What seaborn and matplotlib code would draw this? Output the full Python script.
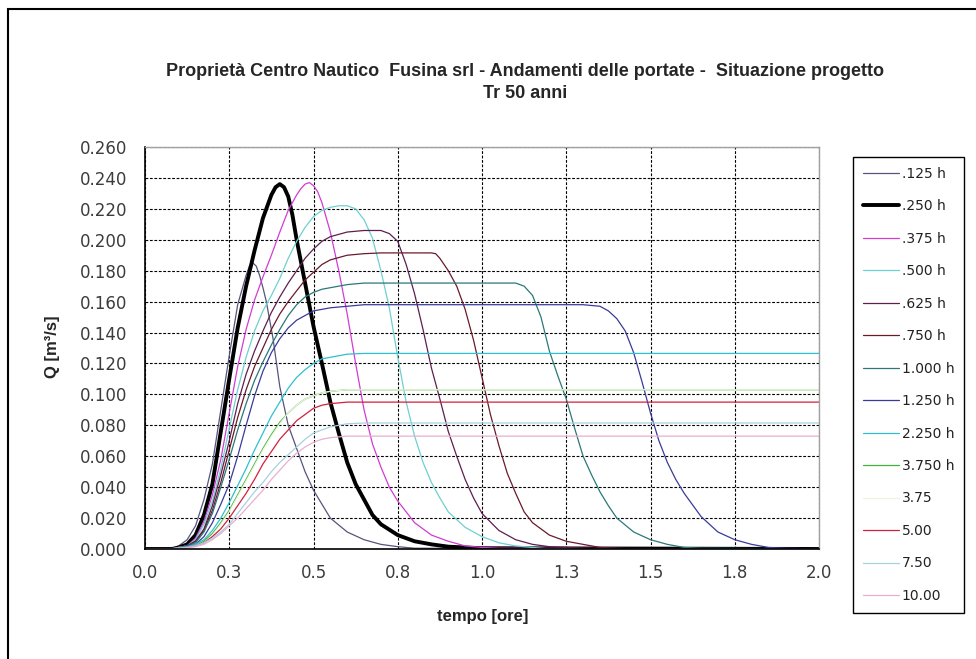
import numpy as np
import pandas as pd
import matplotlib
matplotlib.use("Agg")
import matplotlib.pyplot as plt
from matplotlib.patches import Rectangle
import seaborn as sns

# durate di pioggia (legenda) e colori
serie = [".125 h", ".250 h", ".375 h", ".500 h", ".625 h", ".750 h", "1.000 h",
         "1.250 h", "2.250 h", "3.750 h", "3.75", "5.00", "7.50", "10.00"]
colori = ["#55557f", "#000000", "#d23cd2", "#6fd0d0", "#5e1f4e", "#6a1a2a", "#2a7878",
          "#3a3a9a", "#2ec0d0", "#3cb43c", "#eef4dc", "#d2203c", "#a8d0e0", "#e8b0d0"]

# portate: tempo [ore], Q [m3/s]
t_0125 = [0, 0.08, 0.10, 0.125, 0.15, 0.175, 0.20, 0.225, 0.25, 0.275, 0.30, 0.31, 0.32, 0.33,
          0.34, 0.35, 0.36, 0.38, 0.40, 0.425, 0.45, 0.475, 0.50, 0.55, 0.60, 0.65, 0.70, 0.75,
          0.80, 2.0]
q_0125 = [0, 0, 0.002, 0.006, 0.015, 0.032, 0.055, 0.090, 0.125, 0.158, 0.177, 0.183, 0.185, 0.183,
          0.177, 0.169, 0.160, 0.136, 0.105, 0.080, 0.065, 0.050, 0.038, 0.020, 0.011, 0.006, 0.003,
          0.0015, 0.0005, 0]

t_0250 = [0, 0.08, 0.10, 0.125, 0.15, 0.175, 0.20, 0.225, 0.25, 0.275, 0.30, 0.325, 0.35, 0.375,
          0.3875, 0.40, 0.4125, 0.425, 0.4375, 0.45, 0.475, 0.50, 0.525, 0.55, 0.575, 0.60, 0.625,
          0.65, 0.675, 0.70, 0.75, 0.80, 0.85, 0.90, 0.95, 1.00, 2.0]
q_0250 = [0, 0, 0.001, 0.003, 0.009, 0.022, 0.042, 0.076, 0.110, 0.143, 0.170, 0.193, 0.214, 0.229,
          0.234, 0.236, 0.234, 0.228, 0.216, 0.200, 0.172, 0.144, 0.120, 0.095, 0.075, 0.056, 0.042,
          0.032, 0.022, 0.016, 0.009, 0.005, 0.003, 0.0015, 0.001, 0.0005, 0]

t_0375 = [0, 0.08, 0.10, 0.125, 0.15, 0.175, 0.20, 0.225, 0.25, 0.275, 0.30, 0.325, 0.35, 0.375,
          0.40, 0.425, 0.45, 0.4625, 0.475, 0.4875, 0.50, 0.5125, 0.525, 0.55, 0.575, 0.60, 0.625,
          0.65, 0.675, 0.70, 0.725, 0.75, 0.80, 0.85, 0.90, 0.95, 1.00, 1.05, 2.0]
q_0375 = [0, 0, 0.001, 0.002, 0.007, 0.018, 0.035, 0.058, 0.088, 0.118, 0.142, 0.161, 0.176, 0.190,
          0.205, 0.219, 0.229, 0.233, 0.236, 0.237, 0.235, 0.231, 0.224, 0.205, 0.180, 0.152, 0.120,
          0.090, 0.068, 0.053, 0.040, 0.031, 0.017, 0.009, 0.005, 0.002, 0.001, 0.0005, 0]

t_0500 = [0, 0.08, 0.10, 0.125, 0.15, 0.175, 0.20, 0.225, 0.25, 0.275, 0.30, 0.325, 0.35, 0.375,
          0.40, 0.425, 0.45, 0.475, 0.50, 0.525, 0.55, 0.575, 0.60, 0.625, 0.65, 0.675, 0.70,
          0.725, 0.75, 0.775, 0.80, 0.825, 0.85, 0.875, 0.90, 0.95, 1.00, 1.05, 1.10, 1.15, 1.20, 2.0]
q_0500 = [0, 0, 0.001, 0.002, 0.006, 0.016, 0.031, 0.052, 0.078, 0.103, 0.124, 0.141, 0.154, 0.164,
          0.175, 0.188, 0.199, 0.208, 0.215, 0.219, 0.221, 0.222, 0.222, 0.220, 0.213, 0.201, 0.180,
          0.156, 0.124, 0.095, 0.073, 0.056, 0.043, 0.033, 0.024, 0.014, 0.008, 0.004, 0.002, 0.001, 0, 0]

t_0625 = [0, 0.075, 0.10, 0.125, 0.15, 0.175, 0.20, 0.225, 0.25, 0.275, 0.30, 0.325, 0.35, 0.375,
          0.40, 0.425, 0.45, 0.475, 0.50, 0.525, 0.55, 0.60, 0.65, 0.70, 0.725, 0.75, 0.775, 0.80,
          0.825, 0.85, 0.875, 0.90, 0.925, 0.95, 0.975, 1.00, 1.05, 1.10, 1.15, 1.20, 1.25, 1.30,
          1.35, 2.0]
q_0625 = [0, 0, 0.001, 0.002, 0.005, 0.013, 0.028, 0.048, 0.070, 0.094, 0.113, 0.128, 0.141, 0.153,
          0.163, 0.172, 0.180, 0.188, 0.194, 0.199, 0.202, 0.205, 0.206, 0.206, 0.204, 0.199, 0.184,
          0.165, 0.142, 0.117, 0.097, 0.076, 0.060, 0.045, 0.033, 0.023, 0.012, 0.006, 0.003, 0.0015,
          0.001, 0.0005, 0, 0]

t_0750 = [0, 0.075, 0.10, 0.125, 0.15, 0.175, 0.20, 0.225, 0.25, 0.275, 0.30, 0.325, 0.35, 0.375,
          0.40, 0.425, 0.45, 0.475, 0.50, 0.525, 0.55, 0.60, 0.65, 0.70, 0.85, 0.8625, 0.875, 0.90,
          0.925, 0.95, 0.975, 1.00, 1.025, 1.05, 1.075, 1.10, 1.125, 1.15, 1.20, 1.25, 1.30, 1.35,
          1.40, 1.45, 2.0]
q_0750 = [0, 0, 0.001, 0.002, 0.005, 0.012, 0.025, 0.043, 0.064, 0.085, 0.103, 0.118, 0.130, 0.142,
          0.152, 0.160, 0.167, 0.174, 0.179, 0.184, 0.187, 0.190, 0.191, 0.1915, 0.1915, 0.191, 0.188,
          0.180, 0.170, 0.155, 0.135, 0.111, 0.087, 0.067, 0.049, 0.036, 0.024, 0.017, 0.009, 0.005,
          0.003, 0.001, 0.0005, 0, 0]

t_1000 = [0, 0.075, 0.10, 0.125, 0.15, 0.175, 0.20, 0.225, 0.25, 0.275, 0.30, 0.325, 0.35, 0.375,
          0.40, 0.425, 0.45, 0.475, 0.50, 0.525, 0.55, 0.60, 0.65, 1.10, 1.125, 1.15, 1.175, 1.20,
          1.225, 1.25, 1.275, 1.30, 1.325, 1.35, 1.375, 1.40, 1.45, 1.50, 1.55, 1.60, 1.65, 2.0]
q_1000 = [0, 0, 0.001, 0.002, 0.004, 0.011, 0.023, 0.040, 0.058, 0.077, 0.094, 0.109, 0.121, 0.132,
          0.142, 0.151, 0.158, 0.163, 0.166, 0.168, 0.169, 0.171, 0.172, 0.172, 0.170, 0.164, 0.150,
          0.128, 0.112, 0.097, 0.078, 0.060, 0.048, 0.037, 0.028, 0.020, 0.011, 0.006, 0.003, 0.001,
          0.0005, 0]

t_1250 = [0, 0.075, 0.10, 0.125, 0.15, 0.175, 0.20, 0.225, 0.25, 0.275, 0.30, 0.325, 0.35, 0.375,
          0.40, 0.425, 0.45, 0.475, 0.50, 0.525, 0.55, 0.60, 0.65, 1.30, 1.35, 1.375, 1.40, 1.425,
          1.45, 1.475, 1.50, 1.525, 1.55, 1.575, 1.60, 1.65, 1.70, 1.75, 1.80, 1.85, 1.90, 2.0]
q_1250 = [0, 0, 0.001, 0.002, 0.003, 0.008, 0.017, 0.029, 0.042, 0.060, 0.080, 0.099, 0.115, 0.127,
          0.136, 0.143, 0.148, 0.151, 0.154, 0.155, 0.156, 0.157, 0.158, 0.158, 0.157, 0.154, 0.149,
          0.141, 0.127, 0.108, 0.088, 0.070, 0.056, 0.045, 0.036, 0.021, 0.011, 0.006, 0.003, 0.001,
          0.0005, 0]

# durate lunghe: risalita e poi portata costante fino a 2 ore
t_lunghe = [0, 0.075, 0.10, 0.125, 0.15, 0.175, 0.20, 0.225, 0.25, 0.275, 0.30, 0.325, 0.35, 0.375,
            0.40, 0.425, 0.45, 0.475, 0.50, 0.525, 0.55, 0.60, 0.65, 2.0]
q_2250 = [0, 0, 0.001, 0.0015, 0.003, 0.006, 0.012, 0.020, 0.030, 0.041, 0.052, 0.064, 0.075, 0.086,
          0.095, 0.104, 0.111, 0.116, 0.120, 0.123, 0.124, 0.126, 0.1265, 0.1265]
q_3750 = [0, 0, 0.0005, 0.001, 0.002, 0.005, 0.010, 0.017, 0.025, 0.035, 0.045, 0.055, 0.065, 0.074,
          0.082, 0.088, 0.093, 0.097, 0.099, 0.101, 0.102, 0.103, 0.103, 0.103]
q_375 = [0, 0, 0.0005, 0.001, 0.002, 0.004, 0.009, 0.016, 0.024, 0.034, 0.044, 0.054, 0.064, 0.073,
         0.081, 0.088, 0.093, 0.097, 0.099, 0.101, 0.102, 0.103, 0.103, 0.103]
q_500 = [0, 0, 0.0005, 0.001, 0.002, 0.004, 0.008, 0.013, 0.020, 0.028, 0.036, 0.045, 0.055, 0.063,
         0.071, 0.077, 0.083, 0.087, 0.091, 0.093, 0.094, 0.095, 0.095, 0.095]
q_750 = [0, 0, 0.0005, 0.001, 0.002, 0.004, 0.007, 0.011, 0.016, 0.023, 0.030, 0.037, 0.043, 0.050,
         0.056, 0.061, 0.066, 0.071, 0.075, 0.077, 0.079, 0.081, 0.0815, 0.0815]
q_1000h = [0, 0, 0.0005, 0.0008, 0.0015, 0.003, 0.006, 0.010, 0.015, 0.020, 0.026, 0.032, 0.038, 0.045,
           0.051, 0.057, 0.062, 0.066, 0.069, 0.071, 0.072, 0.073, 0.073, 0.073]

tempi = [t_0125, t_0250, t_0375, t_0500, t_0625, t_0750, t_1000, t_1250,
         t_lunghe, t_lunghe, t_lunghe, t_lunghe, t_lunghe, t_lunghe]
portate = [q_0125, q_0250, q_0375, q_0500, q_0625, q_0750, q_1000, q_1250,
           q_2250, q_3750, q_375, q_500, q_750, q_1000h]

x_ticks = [0, 0.25, 0.5, 0.75, 1.0, 1.25, 1.5, 1.75, 2.0]
x_labels = ["0.0", "0.3", "0.5", "0.8", "1.0", "1.3", "1.5", "1.8", "2.0"]
y_ticks = [0, 0.02, 0.04, 0.06, 0.08, 0.10, 0.12, 0.14, 0.16, 0.18, 0.20, 0.22, 0.24, 0.26]

# tabella lunga per seaborn
df = pd.concat([pd.DataFrame({"serie": s, "tempo": t, "Q": q})
                for s, t, q in zip(serie, tempi, portate)], ignore_index=True)

sns.set_style("white")
plt.rcParams['font.family'] = ['DejaVu Sans']

W, H = 976, 659
fig = plt.figure(figsize=(W / 100, H / 100), dpi=100)
ax = fig.add_axes([145 / W, 1 - 549 / H, (819 - 145) / W, (549 - 147) / H])

for s, c in zip(serie, colori):
    lw = 2.8 if s == ".250 h" else 0.9
    sns.lineplot(data=df[df["serie"] == s], x="tempo", y="Q", color=c, linewidth=lw,
                 label=s, ax=ax, sort=False, estimator=None)

ax.set_xlim(0, 2.0)
ax.set_ylim(0, 0.26)
ax.set_xticks(x_ticks)
ax.set_xticklabels(x_labels)
ax.set_yticks(y_ticks)
ax.set_yticklabels(["%.3f" % v for v in y_ticks])
ax.set_xlabel("")
ax.set_ylabel("")
ax.set_axisbelow(True)
ax.grid(True, color="black", linestyle=(0, (2.5, 1.5)), linewidth=0.8)
ax.tick_params(axis="both", direction="out", length=4, width=1, color="black",
               labelsize=12, labelcolor="#3c3c3c")
ax.tick_params(axis="y", pad=9)
ax.tick_params(axis="x", pad=7)
for sp in ["left", "bottom"]:
    ax.spines[sp].set_color("black")
    ax.spines[sp].set_linewidth(1.2)
for sp in ["top", "right"]:
    ax.spines[sp].set_color("#a0a0a0")
    ax.spines[sp].set_linewidth(1.0)

leg = ax.legend(loc="upper left", bbox_to_anchor=(853 / W, 1 - 157 / H),
                bbox_transform=fig.transFigure, frameon=True, fancybox=False,
                edgecolor="black", framealpha=1, fontsize=10, handlelength=2.6,
                handletextpad=0.2, labelspacing=1.33, borderpad=0.7, borderaxespad=0)
leg.get_frame().set_linewidth(1.0)
for txt in leg.get_texts():
    txt.set_color("#222222")

titolo_font = ["Liberation Sans", "DejaVu Sans"]
fig.text(525 / W, 1 - 72 / H,
         "Proprietà Centro Nautico  Fusina srl - Andamenti delle portate -  Situazione progetto",
         ha="center", va="center", fontsize=13, fontweight="bold", family=titolo_font)
fig.text(525 / W, 1 - 93 / H, "Tr 50 anni", ha="center", va="center",
         fontsize=13, fontweight="bold", family=titolo_font)
fig.text(483 / W, 1 - 617 / H, "tempo [ore]", ha="center", va="center",
         fontsize=12, fontweight="bold", family=titolo_font)
fig.text(53 / W, 1 - 347 / H, "Q [m³/s]", ha="center", va="center", rotation=90,
         fontsize=12, fontweight="bold", family=titolo_font)

# bordo dell'area del grafico
fig.add_artist(Rectangle((8 / W, -0.1), 1.2, 1 - 9 / H + 0.1, transform=fig.transFigure,
                         fill=False, edgecolor="black", linewidth=1.5, clip_on=False))

fig.savefig("out.png", dpi=100)
